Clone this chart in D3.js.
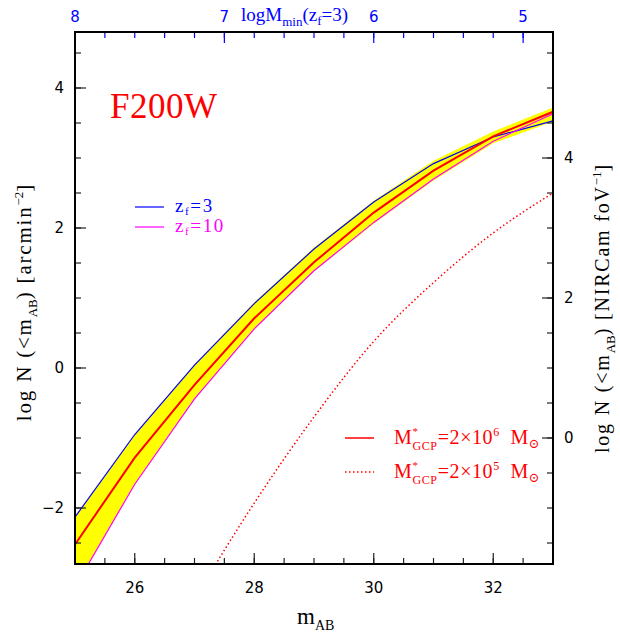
<!DOCTYPE html>
<html>
<head>
<title>F200W counts</title>
<script src="https://d3js.org/d3.v7.min.js"></script>
<style>
  body { margin: 0; background: #fff; }
  text { font-family: "DejaVu Sans", sans-serif; }
  .serif { font-family: "Liberation Serif", "DejaVu Serif", serif; }
</style>
</head>
<body>
<script type="text/javascript">
var width = 620,
    height = 635
var margin = {left: 75, right: 67, top: 32, bottom: 71}

// data
var mags = [25, 26, 27, 28, 29, 30, 31, 32, 33]
var zf3 = [-2.13, -0.95, 0.04, 0.92, 1.70, 2.37, 2.92, 3.30, 3.53]
var gcpMid = [-2.52, -1.28, -0.24, 0.71, 1.51, 2.22, 2.82, 3.31, 3.66]
var zf10 = [-3.13, -1.66, -0.44, 0.56, 1.39, 2.08, 2.70, 3.24, 3.63]
var bandTop = [-2.13, -0.95, 0.05, 0.94, 1.72, 2.39, 2.96, 3.38, 3.72]
var bandBottom = [-3.13, -1.66, -0.44, 0.55, 1.38, 2.06, 2.68, 3.21, 3.52]
var dotMags = [27, 28, 29, 30, 31, 32, 33]
var gcpLow = [-3.3, -1.93, -0.70, 0.38, 1.22, 1.93, 2.5]

var xTicks = [26, 28, 30, 32]
var yTicks = [-2, 0, 2, 4]
var rightTicks = [0, 2, 4]
var topTicks = [8, 7, 6, 5]
var fovOffset = 1.0   // log of NIRCam field of view in arcmin^2

var svg = d3.select("body").append("svg")
    .attr("width", width)
    .attr("height", height);

var x = d3.scaleLinear().domain([25, 33]).range([margin.left, width - margin.right]);
var y = d3.scaleLinear().domain([-2.8, 4.8]).range([height - margin.bottom, margin.top]);
var yR = d3.scaleLinear().domain([-2.8 + fovOffset, 4.8 + fovOffset]).range(y.range());
// top axis: logMmin = 8 - (m - 25) / 2.5
var xT = d3.scaleLinear().domain([8, 4.8]).range(x.range());

svg.append("clipPath").attr("id", "clip")
  .append("rect")
    .attr("x", x(25)).attr("y", y(4.8))
    .attr("width", x(33) - x(25)).attr("height", y(-2.8) - y(4.8));

var plot = svg.append("g").attr("clip-path", "url(#clip)");

var band = mags.map(function(m, i) { return {m: m, hi: bandTop[i], lo: bandBottom[i]}; });
plot.append("path")
    .datum(band)
    .attr("fill", "#ffff00")
    .attr("d", d3.area()
        .x(function(d) { return x(d.m); })
        .y0(function(d) { return y(d.lo); })
        .y1(function(d) { return y(d.hi); }));

var line = d3.line()
    .x(function(d) { return x(d[0]); })
    .y(function(d) { return y(d[1]); });

function series(xs, ys) { return xs.map(function(m, i) { return [m, ys[i]]; }); }

plot.append("path").datum(series(mags, zf3))
    .attr("fill", "none").attr("stroke", "#0000ff").attr("stroke-width", 1.2).attr("d", line);
plot.append("path").datum(series(mags, zf10))
    .attr("fill", "none").attr("stroke", "#ff00ff").attr("stroke-width", 1.2).attr("d", line);
plot.append("path").datum(series(mags, gcpMid))
    .attr("fill", "none").attr("stroke", "#ff0000").attr("stroke-width", 2).attr("d", line);
plot.append("path").datum(series(dotMags, gcpLow))
    .attr("fill", "none").attr("stroke", "#ff0000").attr("stroke-width", 1.5)
    .attr("stroke-dasharray", "1.5,2.5").attr("d", line.curve(d3.curveMonotoneX));

// ticks (inward)
function ticks(vals, pos, side, len, color) {
  vals.forEach(function(v) {
    var p = pos(v);
    var l = svg.append("line").attr("stroke", color).attr("stroke-width", 1.2);
    if (side == "bottom") l.attr("x1", p).attr("x2", p).attr("y1", y(-2.8)).attr("y2", y(-2.8) - len);
    if (side == "top") l.attr("x1", p).attr("x2", p).attr("y1", y(4.8)).attr("y2", y(4.8) + len);
    if (side == "left") l.attr("y1", p).attr("y2", p).attr("x1", x(25)).attr("x2", x(25) + len);
    if (side == "right") l.attr("y1", p).attr("y2", p).attr("x1", x(33)).attr("x2", x(33) - len);
  });
}
ticks(d3.range(25.5, 33, 0.5), x, "bottom", 6, "#222");
ticks(xTicks, x, "bottom", 11, "#222");
ticks(d3.range(-2.5, 4.8, 0.5), y, "left", 6, "#222");
ticks(yTicks, y, "left", 11, "#222");
ticks(d3.range(-1.5, 5.8, 0.5), yR, "right", 6, "#222");
ticks(rightTicks, yR, "right", 11, "#222");
ticks(d3.range(7.8, 4.8, -0.2), xT, "top", 6, "#0000ff");
ticks(topTicks, xT, "top", 11, "#0000ff");

svg.append("rect")
    .attr("x", x(25)).attr("y", y(4.8))
    .attr("width", x(33) - x(25)).attr("height", y(-2.8) - y(4.8))
    .attr("fill", "none").attr("stroke", "#000").attr("stroke-width", 2);

// tick labels
svg.selectAll(".xl").data(xTicks).enter().append("text")
    .attr("x", function(d) { return x(d); }).attr("y", 593)
    .attr("text-anchor", "middle").attr("font-size", 15)
    .text(function(d) { return d; });
svg.selectAll(".yl").data(yTicks).enter().append("text")
    .attr("x", 64).attr("y", function(d) { return y(d) + 5; })
    .attr("text-anchor", "end").attr("font-size", 15)
    .text(function(d) { return d < 0 ? "\u2212" + (-d) : d; });
svg.selectAll(".rl").data(rightTicks).enter().append("text")
    .attr("x", 564).attr("y", function(d) { return yR(d) + 5; })
    .attr("font-size", 15)
    .text(function(d) { return d; });
svg.selectAll(".tl").data(topTicks).enter().append("text")
    .attr("x", function(d) { return xT(d); }).attr("y", 22)
    .attr("text-anchor", "middle").attr("font-size", 15).attr("fill", "#0000ff")
    .text(function(d) { return d; });

// axis titles
var tt = svg.append("text").attr("class", "serif").attr("x", 241).attr("y", 21)
    .attr("font-size", 19).attr("fill", "#0000ff");
tt.append("tspan").text("logM");
tt.append("tspan").attr("dy", 5).attr("font-size", 13).text("min");
tt.append("tspan").attr("dy", -5).text("(z");
tt.append("tspan").attr("dy", 4).attr("font-size", 13).text("f");
tt.append("tspan").attr("dy", -4).text("=3)");

var xt = svg.append("text").attr("class", "serif").attr("x", 297).attr("y", 624)
    .attr("font-size", 23);
xt.append("tspan").text("m");
xt.append("tspan").attr("dy", 6).attr("font-size", 14).text("AB");

function yTitle(xpos, ypos, size, unit, sup) {
  var t = svg.append("text").attr("class", "serif")
      .attr("transform", "translate(" + xpos + "," + ypos + ") rotate(-90)")
      .attr("text-anchor", "middle").attr("font-size", size).attr("letter-spacing", 1.8);
  t.append("tspan").text("log N (<m");
  t.append("tspan").attr("dy", 6).attr("font-size", 13).attr("letter-spacing", 0).text("AB");
  t.append("tspan").attr("dy", -6).text(") [" + unit);
  t.append("tspan").attr("dy", -8).attr("font-size", 13).attr("letter-spacing", 0).text(sup);
  t.append("tspan").attr("dy", 8).text("]");
}
yTitle(31, 302, 21, "arcmin", "\u22122");
yTitle(609, 308, 20, "NIRCam foV", "\u22121");

// labels
svg.append("text").attr("class", "serif").attr("x", 110).attr("y", 118)
    .attr("font-size", 35).attr("fill", "#ff0000").attr("letter-spacing", 0.5).text("F200W");

var legendZ = [{label: "3", color: "#0000ff", yy: 207}, {label: "10", color: "#ff00ff", yy: 227}];
legendZ.forEach(function(d) {
  svg.append("line").attr("x1", 135).attr("x2", 164).attr("y1", d.yy).attr("y2", d.yy)
      .attr("stroke", d.color).attr("stroke-width", 1.2);
  var t = svg.append("text").attr("class", "serif").attr("x", 175).attr("y", d.yy + 5)
      .attr("font-size", 19).attr("letter-spacing", 1.6).attr("fill", d.color);
  t.append("tspan").text("z");
  t.append("tspan").attr("dy", 3).attr("font-size", 11).text("f");
  t.append("tspan").attr("dy", -3).text("=" + d.label);
});

var legendM = [{exp: "6", dash: null, yy: 438}, {exp: "5", dash: "1.5,2.5", yy: 472}];
legendM.forEach(function(d) {
  var l = svg.append("line").attr("x1", 345).attr("x2", 374).attr("y1", d.yy).attr("y2", d.yy)
      .attr("stroke", "#ff0000").attr("stroke-width", 1.5);
  if (d.dash) l.attr("stroke-dasharray", d.dash);
  var t = svg.append("text").attr("class", "serif").attr("x", 394).attr("y", d.yy + 6)
      .attr("font-size", 20).attr("letter-spacing", 0.6).attr("fill", "#ff0000");
  t.append("tspan").text("M");
  t.append("tspan").attr("dy", -9).attr("font-size", 11).text("*");
  t.append("tspan").attr("dx", -6).attr("dy", 15).attr("font-size", 12).text("GCP");
  t.append("tspan").attr("dy", -6).text("=2\u00d710");
  t.append("tspan").attr("dy", -8).attr("font-size", 12).text(d.exp);
  t.append("tspan").attr("dy", 8).text("\u2002M");
  t.append("tspan").attr("dy", 4).attr("font-size", 13).text("\u2299");
});
</script>
</body>
</html>
